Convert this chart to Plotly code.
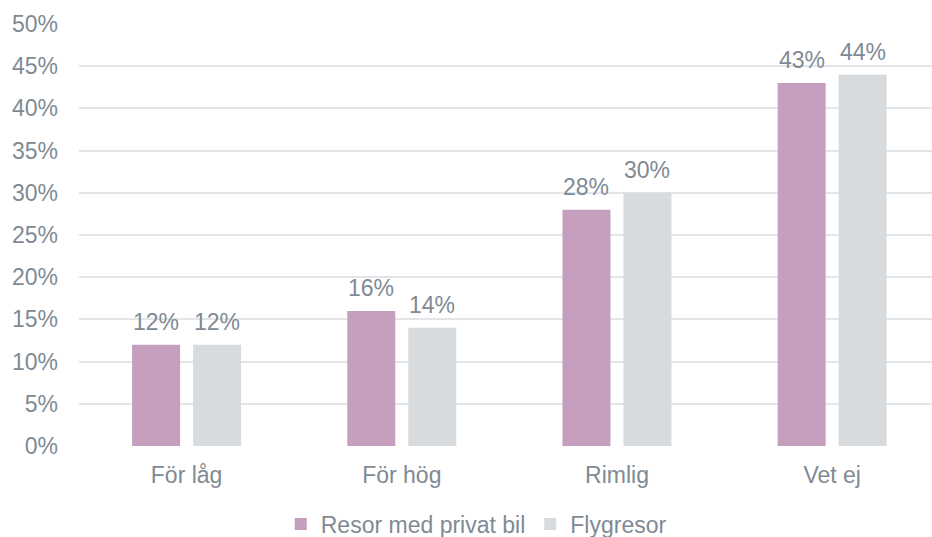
import plotly.graph_objects as go

categories = ["För låg", "För hög", "Rimlig", "Vet ej"]
series_names = ["Resor med privat bil", "Flygresor"]
bil_values = [12, 16, 28, 43]
flyg_values = [12, 14, 30, 44]
y_ticks = [0, 5, 10, 15, 20, 25, 30, 35, 40, 45, 50]
y_tick_labels = [f"{t}%" for t in y_ticks]

colors = ["#C59FBD", "#D8DBDE"]
text_color = "#7F8A94"
grid_color = "#E3E6E8"
font_family = "Liberation Sans, Arial, sans-serif"
font_size = 23

fig = go.Figure()
for name, vals, col in zip(series_names, [bil_values, flyg_values], colors):
    fig.add_trace(go.Bar(
        name=name,
        x=categories,
        y=vals,
        marker=dict(color=col, line=dict(width=0)),
        offsetgroup=name,
    ))

# value labels above each bar
bargap = 0.433
n = len(series_names)
slot = (1 - bargap) / n
for si, vals in enumerate([bil_values, flyg_values]):
    for ci, v in enumerate(vals):
        xpos = ci - (1 - bargap) / 2 + slot * (si + 0.5)
        fig.add_annotation(
            x=xpos, y=v, xref="x", yref="y",
            text=f"{v}%", showarrow=False,
            yanchor="bottom", yshift=8,
            font=dict(family=font_family, size=font_size, color=text_color),
        )

fig.update_layout(
    width=932, height=537,
    margin=dict(l=79, r=0, t=24, b=91),
    paper_bgcolor="white", plot_bgcolor="white",
    barmode="group", bargap=bargap, bargroupgap=0.213,
    font=dict(family=font_family, size=font_size, color=text_color),
    showlegend=True,
    legend=dict(
        orientation="h",
        xref="container", yref="container",
        x=0.511, y=0.024, xanchor="center", yanchor="middle",
        font=dict(family=font_family, size=font_size, color=text_color),
        itemwidth=30,
    ),
    xaxis=dict(
        type="category",
        range=[-0.5, 3.464],
        showgrid=False, zeroline=False, showline=False,
        ticks="", ticklabelstandoff=13,
        tickfont=dict(family=font_family, size=font_size, color=text_color),
    ),
    yaxis=dict(
        range=[0, 50],
        tickvals=y_ticks, ticktext=y_tick_labels,
        showgrid=True, gridcolor=grid_color, gridwidth=1.5,
        zeroline=False, showline=False,
        ticks="", ticklabelstandoff=20,
        tickfont=dict(family=font_family, size=font_size, color=text_color),
    ),
)

fig.write_html("out.html")
